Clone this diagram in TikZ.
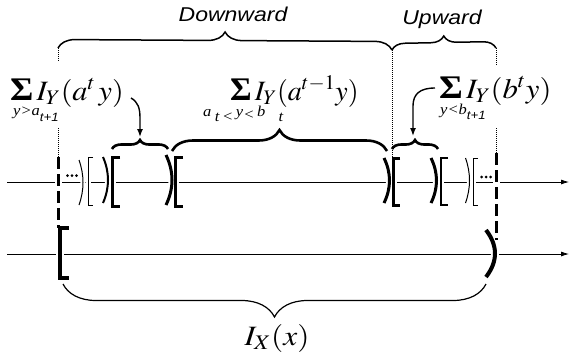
\documentclass[tikz,border=0pt]{standalone}
\usepackage{mathptmx}
\usepackage{fontspec}
\setmainfont{Liberation Serif}
\setsansfont{Liberation Sans}
\usetikzlibrary{decorations.pathreplacing,arrows.meta}
\newcommand\MF{\fontsize{28}{30}\selectfont}
\newcommand\SF{\fontsize{15}{15}\selectfont}
\newcommand\TF{\fontsize{12}{12}\selectfont\sffamily}
\newcommand\SG{{\fontsize{33}{33}\selectfont\bfseries Σ}\hspace{3pt}}
\newcommand\rp[5]{\draw[#5] (#1,#2) .. controls ({#1+1.333*#4},{#2+(#3-#2)/3}) and ({#1+1.333*#4},{#3-(#3-#2)/3}) .. (#1,#3);}
\newcommand\lb[5]{\draw[#5] ({#1+#4},#2) -- (#1,#2) -- (#1,#3) -- ({#1+#4},#3);}
\newcommand\BrkSet{%
  \rp{79}{160}{205}{4}{thn}
  \lb{88}{157}{205}{5}{thn}
  \rp{103}{157}{203}{5}{med}
  \lb{112.5}{157}{206}{7.5}{thk}
  \rp{166}{155}{205}{6}{thk}
  \lb{175.5}{157}{206}{7.5}{thk}
  \rp{384}{158}{203}{5.5}{thk}
  \lb{393.5}{158}{205}{6.5}{thk}
  \rp{431}{158}{203}{5.5}{thk}
  \lb{441}{158}{205}{7}{med}
  \rp{465.5}{158}{203}{4}{thn}
  \lb{473}{158}{205}{5}{thn}
  \lb{59.5}{228}{278}{9.5}{thkb}
  \rp{486}{230}{277}{9}{thkb}
  \draw[dsh] (58,157) -- (58,228);
  \draw[dsh] (496,153) -- (496,240);
}
\begin{document}
\begin{tikzpicture}[x=1pt,y=-1pt,
  axis/.style={line width=0.8pt,-{Latex[length=8pt,width=5pt]}},
  dotln/.style={line width=0.8pt,dash pattern=on 1pt off 1pt},
  bracetop/.style={line width=1.5pt,decorate,decoration={brace,amplitude=#1}},
  bracemid/.style={line width=2.6pt,decorate,decoration={brace,amplitude=#1}},
  bracebot/.style={line width=1.2pt,decorate,decoration={brace,amplitude=#1}},
  arr/.style={line width=1.4pt,-{Latex[length=8pt,width=6pt]}},
  sub/.style={inner sep=0pt,anchor=base west},
  lab/.style={inner sep=0pt,anchor=base}]
\useasboundingbox (0,0) rectangle (570,354);
% axes
\coordinate (a1) at (7,182); \coordinate (a2) at (569,182);
\coordinate (b1) at (7,254); \coordinate (b2) at (569,254);
\draw[axis] (a1) -- (a2);
\draw[axis] (b1) -- (b2);
% halo pass
\begin{scope}[thn/.style={white,line width=5pt},med/.style={white,line width=6pt},
  thk/.style={white,line width=7pt},thkb/.style={white,line width=8pt},
  dsh/.style={white,line width=7pt}]
  \BrkSet
\end{scope}
% ink pass
\begin{scope}[thn/.style={line width=1pt},med/.style={line width=2pt},
  thk/.style={line width=3pt},thkb/.style={line width=4pt},
  dsh/.style={line width=3pt,dash pattern=on 12pt off 5pt}]
  \BrkSet
\end{scope}
% ellipsis dots
\foreach \x in {67.5,72,76.5} \fill (\x,175.5) circle (1.5pt);
\foreach \x in {481.5,486,490.5} \fill (\x,177) circle (1.5pt);
% dotted guides
\coordinate (dl) at (58,48); \coordinate (dm) at (392,50); \coordinate (dr) at (496,48);
\draw[dotln] (dl) -- (58,62);
\draw[dotln] (58,128) -- (58,157);
\draw[dotln] (dm) -- (392,158);
\draw[dotln] (dr) -- (496,66);
\draw[dotln] (496,128) -- (496,153);
% braces
\draw[bracetop=17pt] (dl) -- (dm);
\draw[bracetop=13pt] (dm) -- (dr);
\draw[bracemid=9pt] (112,149) -- (168,149);
\draw[bracemid=21pt] (172,151) -- (387,151);
\draw[bracemid=9pt] (392,149) -- (438,149);
\draw[bracebot=33pt] (486,284) -- (63,284);
% texts
\node[lab] (down) at (233,21) {\scalebox{1.15}[1]{\fontsize{20}{20}\selectfont\sffamily\itshape Downward}};
\node[lab] (up) at (442,24) {\scalebox{1.15}[1]{\fontsize{20}{20}\selectfont\sffamily\itshape Upward}};
\node[sub] (ltxt) at (10,100) {\scalebox{1.08}[1]{\MF\SG$I_Y(a^t\,y)$}};
\node[sub] (lsub) at (13,115) {\scalebox{1.1}[1]{\SF\itshape y>a\raisebox{-6pt}{\TF t+1}}};
\node[sub] (mtxt) at (230,100) {\scalebox{1.0}[1]{\MF\SG$I_Y(a^{t\mathrm{-}1}y)$}};
\node[sub] (msub) at (203,116) {\scalebox{1.1}[1]{\SF\itshape a\raisebox{-5pt}{\hspace{3pt}t\,<}\,y\raisebox{-3pt}{<}\,b\raisebox{-5pt}{\hspace{12pt}t}}};
\node[sub] (rtxt) at (439,98) {\scalebox{1.1}[1]{\MF\SG$I_Y(b^t y)$}};
\node[sub] (rsub) at (440,114) {\scalebox{1.1}[1]{\SF\itshape y<b\raisebox{-5pt}{\TF t+1}}};
\node[lab] (ix) at (277,345) {\scalebox{1.12}[1]{\MF$I_X(x)$}};
% arrows
\coordinate (ls) at (131,98); \coordinate (lt) at (140,137);
\coordinate (rs) at (435,88); \coordinate (rt) at (413,136);
\draw[arr] (ls) .. controls (138,102) and (140,108) .. (140,118) -- (lt);
\draw[arr] (rs) .. controls (420,88) and (413,94) .. (413,106) -- (rt);
\end{tikzpicture}
\end{document}
